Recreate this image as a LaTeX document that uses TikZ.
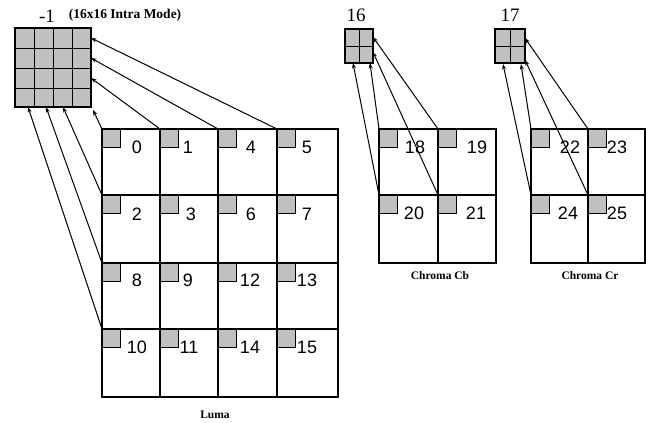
\documentclass[tikz,border=0pt]{standalone}
\usepackage{fontspec}
\setmainfont{Liberation Serif}
\newfontfamily\numfont{Liberation Sans}
\usetikzlibrary{arrows.meta}
\definecolor{cgray}{RGB}{192,192,192}
\begin{document}
\begin{tikzpicture}[x=1pt,y=-1pt,
  gridline/.style={line width=1.5pt},
  sqline/.style={line width=1pt},
  num/.style={font=\numfont\fontsize{18}{18}\selectfont, inner sep=0pt},
  lbl/.style={font=\bfseries\fontsize{11.5}{12}\selectfont, inner sep=0pt},
  title/.style={font=\bfseries\fontsize{13.5}{14}\selectfont, inner sep=0pt},
  big/.style={font=\fontsize{19}{19}\selectfont, inner sep=0pt},
  arr/.style={line width=1pt, -{Stealth[length=5.5pt,width=4pt]}}]
\useasboundingbox (0,0) rectangle (648,423);

% ---------- small gray corner squares ----------
\foreach \x in {102,160,218,277}{
  \foreach \y in {129,195,263,329}{
    \fill[cgray] (\x,\y) rectangle ++(18,18);
    \draw[sqline] (\x+18,\y) -- ++(0,18) -- ++(-18,0);
  }}
\foreach \x in {379,438,531,588}{
  \foreach \y in {129,195}{
    \fill[cgray] (\x,\y) rectangle ++(18,18);
    \draw[sqline] (\x+18,\y) -- ++(0,18) -- ++(-18,0);
  }}

% ---------- Luma grid ----------
\draw[gridline] (102,129) rectangle (338,397);
\foreach \x in {160,218,277} \draw[gridline] (\x,129) -- (\x,397);
\foreach \y in {195,263,329} \draw[gridline] (102,\y) -- (338,\y);

% ---------- Chroma grids ----------
\draw[gridline] (379,129) rectangle (496,263);
\draw[gridline] (438,129) -- (438,263);
\draw[gridline] (379,195) -- (496,195);
\draw[gridline] (531,129) rectangle (645,263);
\draw[gridline] (588,129) -- (588,263);
\draw[gridline] (531,195) -- (645,195);

% ---------- prediction blocks ----------
\fill[cgray] (15,28) rectangle (91,107);
\draw[gridline] (15,28) rectangle (91,107);
\foreach \x in {34,53,72} \draw[sqline] (\x,28) -- (\x,107);
\foreach \y in {48,68,88} \draw[sqline] (15,\y) -- (91,\y);

\fill[cgray] (345,29) rectangle (373,63);
\draw[gridline] (345,29) rectangle (373,63);
\draw[sqline] (359,29) -- (359,63);
\draw[sqline] (345,46) -- (373,46);

\fill[cgray] (495,29) rectangle (525,63);
\draw[gridline] (495,29) rectangle (525,63);
\draw[sqline] (510,29) -- (510,63);
\draw[sqline] (495,46) -- (525,46);

% ---------- numbers ----------
\node[num] (n0)  at (137,147) {0};
\node[num] (n1)  at (188,147) {1};
\node[num] (n4)  at (251,147) {4};
\node[num] (n5)  at (307,147) {5};
\node[num] (n2)  at (137,214) {2};
\node[num] (n3)  at (191,214) {3};
\node[num] (n6)  at (251,214) {6};
\node[num] (n7)  at (307,214) {7};
\node[num] (n8)  at (137,280) {8};
\node[num] (n9)  at (188,280) {9};
\node[num] (n12) at (250,280) {12};
\node[num] (n13) at (307,280) {13};
\node[num] (n10) at (137,347) {10};
\node[num] (n11) at (189,347) {11};
\node[num] (n14) at (250,347) {14};
\node[num] (n15) at (307,347) {15};

\node[num] (n18) at (415,147) {18};
\node[num] (n19) at (477,147) {19};
\node[num] (n20) at (414,213) {20};
\node[num] (n21) at (476,213) {21};
\node[num] (n22) at (570,147) {22};
\node[num] (n23) at (617,147) {23};
\node[num] (n24) at (568,213) {24};
\node[num] (n25) at (617,213) {25};

% ---------- labels ----------
\node[big] (lm1) at (47,16) {-1};
\node[title] (ltitle) at (125,15) {(16x16 Intra Mode)};
\node[big] (l16) at (356,15) {16};
\node[big] (l17) at (510,15) {17};
\node[lbl] (lcb) at (440,276) {Chroma Cb};
\node[lbl] (lcr) at (590,276) {Chroma Cr};
\node[lbl] (lluma) at (215,415) {Luma};

% ---------- connector end points ----------
% luma sources (top-left corners of cells)
\coordinate (c0)  at (102,129);
\coordinate (c1)  at (160,129);
\coordinate (c4)  at (218,129);
\coordinate (c5)  at (277,129);
\coordinate (c2)  at (102,195);
\coordinate (c8)  at (102,263);
\coordinate (c10) at (102,329);
% luma targets
\coordinate (t5)  at (91,38);
\coordinate (t4)  at (91,58);
\coordinate (t1)  at (91,78);
\coordinate (t0)  at (93,110);
\coordinate (t10) at (28,107);
\coordinate (t8)  at (46,107);
\coordinate (t2)  at (63,107);

% chroma Cb
\coordinate (c18) at (379,129);
\coordinate (c19) at (438,129);
\coordinate (c20) at (379,195);
\coordinate (c21) at (438,195);
\coordinate (t19) at (373,37);
\coordinate (t21) at (373,52);
\coordinate (t20) at (353,63);
\coordinate (t18) at (370,63);

% chroma Cr
\coordinate (c22) at (531,129);
\coordinate (c23) at (588,129);
\coordinate (c24) at (531,195);
\coordinate (c25) at (588,195);
\coordinate (t23) at (525,38);
\coordinate (t25) at (525,60);
\coordinate (t24) at (503,64);
\coordinate (t22) at (521,64);

% ---------- arrows ----------
\draw[arr] (c5) -- (t5);
\draw[arr] (c4) -- (t4);
\draw[arr] (c1) -- (t1);
\draw[arr] (c0) -- (t0);
\draw[arr] (c2) -- (t2);
\draw[arr] (c8) -- (t8);
\draw[arr] (c10) -- (t10);

\draw[arr] (c19) -- (t19);
\draw[arr] (c21) -- (t21);
\draw[arr] (c20) -- (t20);
\draw[arr] (c18) -- (t18);

\draw[arr] (c23) -- (t23);
\draw[arr] (c25) -- (t25);
\draw[arr] (c24) -- (t24);
\draw[arr] (c22) -- (t22);
\end{tikzpicture}
\end{document}
